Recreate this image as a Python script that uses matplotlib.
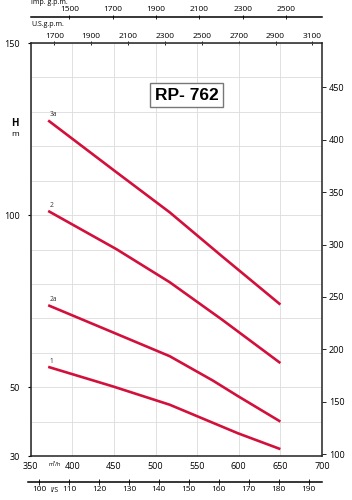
import numpy as np
import matplotlib.pyplot as plt

plt.rcParams['font.family'] = ['Open Sans', 'DejaVu Sans']

# flow in m3/h, head in m
q_3a = [371, 450, 517, 580, 650]
h_3a = [127.5, 113.0, 100.8, 88.0, 74.0]
q_2 = [371, 453, 517, 580, 650]
h_2 = [101.2, 90.1, 80.5, 69.6, 57.0]
q_2a = [371, 450, 517, 569, 599, 650]
h_2a = [73.8, 65.8, 59.0, 51.9, 47.4, 40.0]
q_1 = [371, 449, 517, 599, 650]
h_1 = [55.9, 50.2, 44.9, 36.6, 32.0]

curves = [("3a", q_3a, h_3a), ("2", q_2, h_2), ("2a", q_2a, h_2a), ("1", q_1, h_1)]

m3h_ticks = [350, 400, 450, 500, 550, 600, 650, 700]
ls_ticks = [100, 110, 120, 130, 140, 150, 160, 170, 180, 190]
usgpm_ticks = [1700, 1900, 2100, 2300, 2500, 2700, 2900, 3100]
impgpm_ticks = [1500, 1700, 1900, 2100, 2300, 2500]
h_ticks = [30, 50, 100, 150]
ft_ticks = [100, 150, 200, 250, 300, 350, 400, 450]

red = '#d2103c'
fs = 6.5

fig = plt.figure(figsize=(3.52, 5.0), dpi=100)
L, W = 30.7 / 352, (322 - 30.7) / 352
ax = fig.add_axes([L, 1 - 456 / 500, W, (456 - 43) / 500])

for name, q, h in curves:
    ax.plot(q, h, color=red, lw=1.9, solid_capstyle='butt', solid_joinstyle='round')
    ax.annotate(name, (q[0], h[0]), xytext=(1, 3), textcoords='offset points',
                fontsize=4.8, color='#333333')

ax.set_xlim(350, 700)
ax.set_ylim(30, 150)
ax.set_xticks(m3h_ticks)
ax.set_yticks(h_ticks)
ax.set_yticks(np.arange(30, 151, 10), minor=True)
ax.yaxis.remove_overlapping_locs = False
ax.grid(which='major', axis='x', color='#dcdcdc', lw=0.6)
ax.grid(which='minor', axis='y', color='#dcdcdc', lw=0.6)
ax.tick_params(axis='x', length=0, pad=4, labelsize=fs)
ax.tick_params(axis='y', which='major', length=2, pad=6, labelsize=fs)
ax.tick_params(axis='y', which='minor', length=0)
for s in ax.spines.values():
    s.set_linewidth(1.1)
    s.set_color('#222222')

# feet on the right
ax_ft = ax.secondary_yaxis('right', functions=(lambda m: m * 3.28084, lambda f: f / 3.28084))
ax_ft.set_yticks(ft_ticks)
ax_ft.tick_params(length=3, width=0.6, pad=2, labelsize=fs)
ax_ft.spines['right'].set_visible(False)

# US gpm on the top spine
ax_us = ax.secondary_xaxis('top', functions=(lambda q: 1700 + (q - 378.4) / 0.2215,
                                               lambda g: 378.4 + (g - 1700) * 0.2215))
ax_us.set_xticks(usgpm_ticks)
ax_us.tick_params(direction='inout', length=3, width=0.6, pad=1, labelsize=fs - 0.5)
ax_us.spines['top'].set_visible(False)

# Imperial gpm on a separate line
ax_imp = fig.add_axes([L, 1 - 17 / 500, W, 0.0001])
ax_imp.set_xlim(1500 + (350 - 396.4) / 0.2605, 1500 + (700 - 396.4) / 0.2605)
ax_imp.set_yticks([])
ax_imp.xaxis.tick_top()
ax_imp.set_xticks(impgpm_ticks)
ax_imp.tick_params(direction='inout', length=3, width=0.6, pad=1, labelsize=fs - 0.5)
for k in ['left', 'right', 'bottom']:
    ax_imp.spines[k].set_visible(False)
ax_imp.spines['top'].set_linewidth(1.1)
ax_imp.patch.set_visible(False)

# l/s on a separate line below
ax_ls = fig.add_axes([28 / 352, 1 - 482 / 500, (322 - 28) / 352, 0.0001])
ax_ls.set_xlim(350 / 3.6 - 2.7 / 0.832 / 3.6, 700 / 3.6)
ax_ls.set_yticks([])
ax_ls.set_xticks(ls_ticks)
ax_ls.tick_params(direction='inout', length=4, width=0.6, pad=1, labelsize=fs - 0.5)
for k in ['left', 'right', 'top']:
    ax_ls.spines[k].set_visible(False)
ax_ls.spines['bottom'].set_linewidth(1.1)
ax_ls.patch.set_visible(False)

# labels
fig.text(31 / 352, 1 - 3 / 500, 'Imp. g.p.m.', fontsize=5, va='center', ha='left')
fig.text(31 / 352, 1 - 24 / 500, 'U.S.g.p.m.', fontsize=5, va='center', ha='left')
fig.text(55 / 352, 1 - 465 / 500, 'm³/h', fontsize=4, va='center', ha='center')
fig.text(54 / 352, 1 - 490 / 500, 'l/S', fontsize=5, va='center', ha='center')
fig.text(15 / 352, 1 - 123 / 500, 'H', fontsize=7, fontweight='bold', va='center', ha='center')
fig.text(15 / 352, 1 - 134 / 500, 'm', fontsize=6, va='center', ha='center')

ax.text(0.535, 0.874, 'RP- 762', transform=ax.transAxes, fontsize=12.5,
        fontweight='bold', family='Liberation Sans', ha='center', va='center',
        bbox=dict(boxstyle='square,pad=0.25', fc='white', ec='#777777', lw=1.0))

plt.savefig('out.png', dpi=100)
